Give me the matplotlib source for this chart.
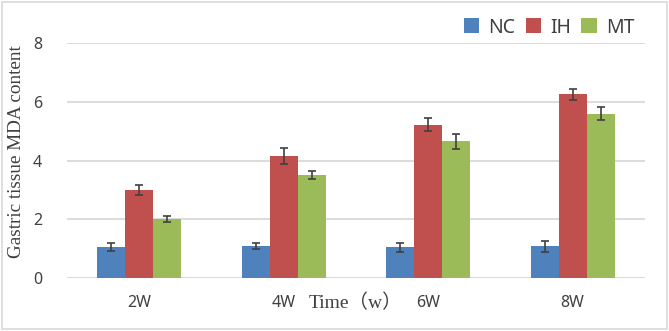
import numpy as np
import matplotlib
matplotlib.use("Agg")
import matplotlib.pyplot as plt
from matplotlib.patches import Rectangle

# Data
weeks = ["2W", "4W", "6W", "8W"]
groups = ["NC", "IH", "MT"]
nc_vals = [1.05, 1.10, 1.05, 1.08]
ih_vals = [3.00, 4.15, 5.22, 6.25]
mt_vals = [2.02, 3.50, 4.65, 5.60]
nc_err = [0.13, 0.10, 0.15, 0.18]
ih_err = [0.18, 0.27, 0.22, 0.20]
mt_err = [0.10, 0.13, 0.25, 0.22]
yticks = [0, 2, 4, 6, 8]

colors = ["#4F81BD", "#C0504D", "#9BBB59"]

fig = plt.figure(figsize=(6.69, 3.31), dpi=100)
ax = fig.add_axes([0.100, 0.160, 0.864, 0.710])

x = np.arange(len(weeks))
width = 0.194
series = [(nc_vals, nc_err), (ih_vals, ih_err), (mt_vals, mt_err)]
for i, ((vals, errs), name, col) in enumerate(zip(series, groups, colors)):
    ax.bar(x + (i - 1) * width, vals, width, color=col, label=name, zorder=2)
    ax.errorbar(x + (i - 1) * width, vals, yerr=errs, fmt="none",
                ecolor="#404040", elinewidth=1.2, capsize=3, capthick=1.2, zorder=3)

ax.set_xlim(-0.5, 3.5)
ax.set_ylim(0, 8)
ax.set_yticks(yticks)
ax.yaxis.grid(True, color="#D9D9D9", linewidth=1.3, zorder=0)
ax.set_axisbelow(True)
for s in ax.spines.values():
    s.set_visible(False)
ax.axhline(0, color="#D9D9D9", linewidth=1.3, zorder=1)
ax.tick_params(length=0, labelsize=11.5, labelcolor="#404040")
ax.tick_params(axis="x", pad=12)
ax.tick_params(axis="y", pad=18)
ax.set_xticks(x)
ax.set_xticklabels(weeks, fontfamily="Noto Sans")
for lab in ax.get_yticklabels():
    lab.set_fontfamily("Noto Sans")

ax.set_ylabel("Gastric tissue MDA content", fontfamily="Liberation Serif",
              fontsize=13.8, color="#404040")
ax.yaxis.set_label_coords(-0.073, 0.538)
fig.text(0.532, 0.085, "Time（w）", fontfamily=["Liberation Serif", "Noto Sans CJK SC"],
         fontsize=14, color="#404040", ha="center", va="center")

leg = ax.legend(loc="lower right", bbox_to_anchor=(0.995, 0.99), ncol=3, frameon=False,
                fontsize=14, handlelength=0.8, handleheight=0.8, handletextpad=0.45,
                columnspacing=0.55, borderaxespad=0)
for t in leg.get_texts():
    t.set_color("#404040")
    t.set_fontfamily("Noto Sans")

fig.patches.append(Rectangle((0.003, 0.005), 0.994, 0.99, transform=fig.transFigure,
                             fill=False, edgecolor="#D9D9D9", linewidth=1.2))

fig.savefig("out.png", dpi=100)
